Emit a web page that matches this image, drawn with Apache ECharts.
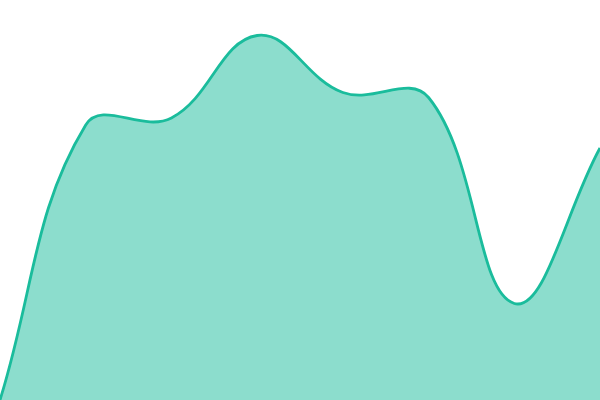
<!DOCTYPE html>
<html><head><meta charset="utf-8">
<script src="https://cdn.jsdelivr.net/npm/echarts@6/dist/echarts.min.js"></script>
<style>html,body{margin:0;padding:0;background:#fff}#c{width:600px;height:400px}</style>
</head><body><div id="c"></div>
<script>
var categories = ['A','B','C','D','E','F','G','H'];
var values = [0, 275, 282, 364.5, 307.5, 302.5, 96.5, 252];
var tension = 0.4;

function renderArea(params, api) {
  if (params.dataIndex !== 0) return null;
  var pts = values.map(function (v, i) { return api.coord([i, v]); });
  var n = pts.length;
  var cpPrev = [], cpNext = [];
  for (var i = 0; i < n; i++) {
    var p = pts[i];
    var prev = pts[i - 1] || p;
    var next = pts[i + 1] || p;
    var d01 = Math.hypot(p[0] - prev[0], p[1] - prev[1]);
    var d12 = Math.hypot(next[0] - p[0], next[1] - p[1]);
    var s = d01 + d12;
    var fa = s ? tension * d01 / s : 0;
    var fb = s ? tension * d12 / s : 0;
    var vx = next[0] - prev[0], vy = next[1] - prev[1];
    cpPrev.push([p[0] - fa * vx, p[1] - fa * vy]);
    cpNext.push([p[0] + fb * vx, p[1] + fb * vy]);
  }
  var d = 'M' + pts[0][0] + ' ' + pts[0][1];
  for (var j = 1; j < n; j++) {
    d += ' C' + cpNext[j - 1][0] + ' ' + cpNext[j - 1][1] + ' ' +
      cpPrev[j][0] + ' ' + cpPrev[j][1] + ' ' + pts[j][0] + ' ' + pts[j][1];
  }
  var baseY = api.coord([0, 0])[1];
  var fillD = d + ' L' + pts[n - 1][0] + ' ' + baseY + ' L' + pts[0][0] + ' ' + baseY + ' Z';
  return {
    type: 'group',
    children: [
      {type: 'path', shape: {pathData: fillD}, style: {fill: 'rgba(26,188,156,0.5)', stroke: 'none'}},
      {type: 'path', shape: {pathData: d}, style: {fill: 'none', stroke: '#1abc9c', lineWidth: 2.8}}
    ]
  };
}

var chart = echarts.init(document.getElementById('c'));
chart.setOption({
  animation: false,
  grid: {left: 0, right: 0, top: 0, bottom: 0},
  xAxis: {type: 'category', data: categories, boundaryGap: false, show: false},
  yAxis: {type: 'value', min: 0, max: 400, show: false},
  series: [{
    type: 'custom', renderItem: renderArea, silent: true, clip: false,
    data: values.map(function (v, i) { return [i, v]; })
  }]
});
</script></body></html>
